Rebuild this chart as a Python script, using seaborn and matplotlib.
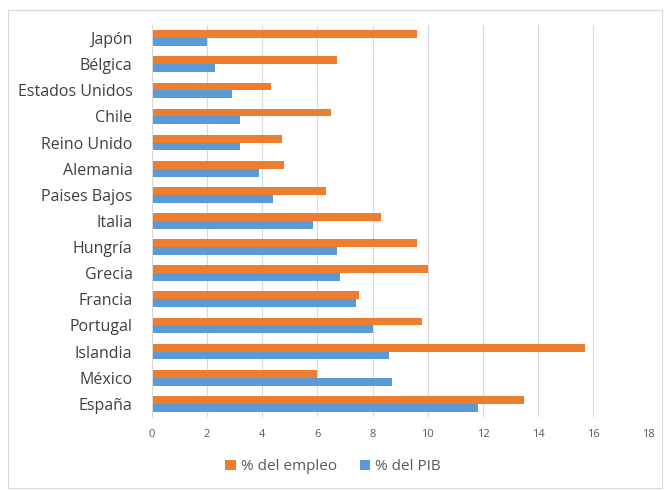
import matplotlib
matplotlib.use("Agg")
import matplotlib.pyplot as plt
import seaborn as sns
import pandas as pd
from matplotlib.patches import Rectangle

paises = ["Japón", "Bélgica", "Estados Unidos", "Chile", "Reino Unido", "Alemania",
          "Paises Bajos", "Italia", "Hungría", "Grecia", "Francia", "Portugal",
          "Islandia", "México", "España"]
empleo = [9.6, 6.7, 4.3, 6.5, 4.7, 4.8, 6.3, 8.3, 9.6, 10.0, 7.5, 9.8, 15.7, 6.0, 13.5]
pib = [2.0, 2.3, 2.9, 3.2, 3.2, 3.9, 4.4, 5.85, 6.7, 6.8, 7.4, 8.0, 8.6, 8.7, 11.8]
series = ["% del empleo", "% del PIB"]
colores = ["#ED7D31", "#5B9BD5"]
ticks = list(range(0, 19, 2))

df = pd.DataFrame({
    "pais": paises * 2,
    "valor": empleo + pib,
    "serie": [series[0]] * len(paises) + [series[1]] * len(paises),
})

sns.set_style("white")
plt.rcParams['font.family'] = ['Open Sans', 'DejaVu Sans']

fig = plt.figure(figsize=(6.66, 4.91), dpi=100)
ax = fig.add_axes([0.228, 0.151, 0.746, 0.798])

sns.barplot(data=df, y="pais", x="valor", hue="serie", hue_order=series,
            palette=colores, orient="h", width=0.6, saturation=1,
            ax=ax, order=paises, legend=True, linewidth=0)

ax.set_xlim(0, 18)
ax.set_xticks(ticks)
ax.set_xticklabels([str(t) for t in ticks], fontsize=8, color="#595959")
ax.tick_params(axis="y", labelsize=11.5, colors="#404040", length=0, pad=14)
ax.tick_params(axis="x", length=0, pad=9)
ax.set_xlabel("")
ax.set_ylabel("")
ax.grid(axis="x", color="#D9D9D9", linewidth=0.8)
ax.set_axisbelow(True)
for s in ["top", "right", "bottom"]:
    ax.spines[s].set_visible(False)
ax.spines["left"].set_color("#D9D9D9")
ax.spines["left"].set_linewidth(0.8)

handles, labels = ax.get_legend_handles_labels()
ax.legend_.remove()
fig.legend(handles, labels, loc="center", bbox_to_anchor=(0.5, 0.049), ncol=2,
           frameon=False, fontsize=11, handlelength=0.7, handleheight=0.7,
           handletextpad=0.3, columnspacing=1.5, labelcolor="#595959")

fig.patches.append(Rectangle((0.012, 0.006), 0.982, 0.974, transform=fig.transFigure,
                             fill=False, edgecolor="#D9D9D9", linewidth=0.8))

fig.savefig("out.png", dpi=100, facecolor="white")
